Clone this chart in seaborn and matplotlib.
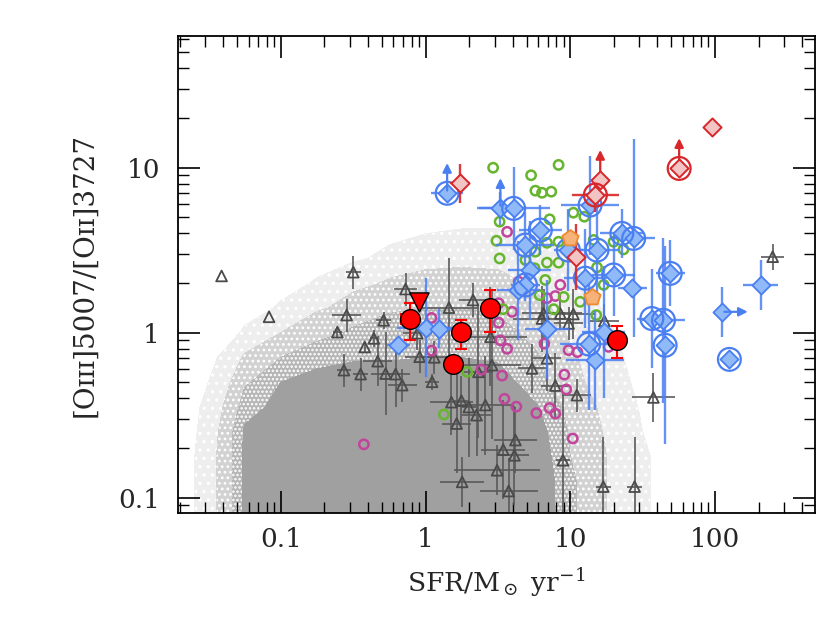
import numpy as np
import pandas as pd
import matplotlib
matplotlib.use("Agg")
import matplotlib.pyplot as plt
import seaborn as sns
from matplotlib.ticker import NullFormatter

# --- local galaxy cloud: density (0 empty .. 3 solid)
cloud_logx = [-1.75, -1.5, -1.25, -1.0, -0.75, -0.5, -0.25, 0.0, 0.25, 0.5, 0.75, 1.0, 1.25, 1.5, 1.75]
cloud_logy = [0.75, 0.6, 0.45, 0.3, 0.15, 0.0, -0.15, -0.3, -0.45, -0.6, -0.75, -0.9, -1.05, -1.2]
cloud_density = [
    [0, 0, 0, 0, 0, 0, 0, 0, 0, 0, 0, 0, 0, 0, 0],
    [0, 0, 0, 0, 0, 0.1, 0.3, 0.5, 0.6, 0.6, 0.5, 0.2, 0, 0, 0],
    [0, 0, 0, 0, 0.1, 0.4, 0.7, 0.9, 1.0, 1.0, 0.8, 0.5, 0.1, 0, 0],
    [0, 0, 0, 0.2, 0.6, 1.0, 1.3, 1.5, 1.5, 1.4, 1.1, 0.7, 0.3, 0, 0],
    [0, 0, 0.2, 0.6, 1.1, 1.5, 1.8, 1.9, 1.9, 1.8, 1.4, 0.9, 0.4, 0, 0],
    [0, 0, 0.6, 1.2, 1.7, 2.0, 2.2, 2.2, 2.2, 2.1, 1.7, 1.1, 0.6, 0.1, 0],
    [0, 0.3, 1.3, 1.9, 2.2, 2.4, 2.4, 2.5, 2.5, 2.4, 2.0, 1.3, 0.7, 0.2, 0],
    [0, 0.5, 1.8, 2.5, 2.8, 2.9, 3.0, 3.0, 3.0, 2.8, 2.1, 1.4, 0.8, 0.3, 0],
    [0, 0.7, 2.2, 2.8, 3.0, 3.0, 3.0, 3.0, 3.0, 3.0, 2.6, 1.6, 1.0, 0.4, 0],
    [0, 0.8, 2.6, 3.0, 3.0, 3.0, 3.0, 3.0, 3.0, 3.0, 2.8, 1.8, 1.1, 0.5, 0],
    [0, 0.9, 2.6, 3.0, 3.0, 3.0, 3.0, 3.0, 3.0, 3.0, 2.9, 1.9, 1.2, 0.6, 0],
    [0, 0.9, 2.6, 3.0, 3.0, 3.0, 3.0, 3.0, 3.0, 3.0, 3.0, 2.0, 1.2, 0.6, 0],
    [0, 0.9, 2.6, 3.0, 3.0, 3.0, 3.0, 3.0, 3.0, 3.0, 3.0, 2.0, 1.2, 0.6, 0],
    [0, 0.9, 2.6, 3.0, 3.0, 3.0, 3.0, 3.0, 3.0, 3.0, 3.0, 2.0, 1.2, 0.6, 0],
]

# --- gray triangles (sfr, ratio, errors in dex)
tri_sfr = [0.039, 0.317, 0.083, 0.285, 0.246, 0.513, 0.44, 0.38, 0.467, 0.273, 0.356, 0.53, 0.621,
           0.69, 0.728, 0.877, 0.91, 1.15, 1.11, 1.45, 2.13, 2.81, 2.88, 2.32, 1.51, 1.77, 1.99,
           2.59, 2.25, 1.64, 1.79, 3.12, 4.18, 3.44, 4.11, 3.75, 8.9, 16.9, 27.8, 11.1, 7.88,
           6.54, 8.53, 10.5, 6.38, 9.73, 17.2, 6.9, 5.44, 37.5, 250]
tri_ratio = [2.21, 2.33, 1.25, 1.28, 1.01, 1.19, 0.925, 0.82, 0.673, 0.594, 0.562, 0.566, 0.562,
             0.482, 1.84, 0.995, 0.716, 0.71, 0.505, 1.42, 1.58, 0.946, 0.637, 0.58, 0.38, 0.388, 0.355,
             0.365, 0.317, 0.282, 0.125, 0.147, 0.224, 0.196, 0.181, 0.11, 0.169, 0.117, 0.117, 0.419, 0.479,
             1.31, 1.31, 1.30, 1.22, 1.14, 1.18, 0.70, 0.608, 0.406, 2.89]
tri_ex = [0, 0.05, 0, 0.1, 0.03, 0.05, 0.03, 0, 0.1, 0.05, 0.05, 0.1, 0.1,
          0.1, 0.08, 0.1, 0.1, 0.1, 0.05, 0.2, 0.1, 0.25, 0.2, 0.1, 0.15, 0.05, 0.05,
          0.2, 0.1, 0.1, 0.15, 0.3, 0.15, 0.15, 0.1, 0.2, 0.05, 0.05, 0.05, 0.1, 0.1,
          0.15, 0.15, 0.15, 0.2, 0.1, 0.1, 0.1, 0.1, 0.15, 0.08]
tri_ey = [0, 0.1, 0, 0.1, 0.03, 0.05, 0.05, 0.03, 0.15, 0.1, 0.1, 0.25, 0.2,
          0.1, 0.1, 0.1, 0.1, 0.1, 0.05, 0.3, 0.1, 0.3, 0.45, 0.4, 0.2, 0.15, 0.3,
          0.3, 0.25, 0.3, 0.15, 0.15, 0.2, 0.3, 0.3, 0.2, 0.4, 0.3, 0.3, 0.1, 0.2,
          0.15, 0.1, 0.15, 0.2, 0.1, 0.1, 0.2, 0.15, 0.15, 0.08]

# --- green open circles
green_sfr = [2.93, 8.3, 5.36, 5.74, 6.38, 7.39, 10.5, 12.5, 7.2, 3.25, 3.09, 3.25, 4.9, 6.9, 8.3,
             5.74, 6.9, 8.3, 5.67, 6.72, 14.5, 23.3, 19.9, 15.3, 17.0, 6.14, 9.0, 7.67, 15.1, 3.43,
             1.94, 1.34, 11.7]
green_ratio = [10.0, 10.4, 9.0, 7.26, 7.05, 7.16, 5.34, 5.05, 4.87, 4.71, 3.61, 2.82, 2.76, 3.51, 3.56,
               3.10, 2.66, 2.66, 2.46, 2.09, 3.65, 3.2, 3.56, 2.49, 1.95, 1.69, 1.65, 1.39, 1.28, 1.39,
               0.58, 0.32, 1.54]

# --- magenta open circles
pink_sfr = [3.66, 4.4, 8.53, 7.88, 6.9, 3.96, 3.2, 3.29, 3.66, 6.62, 9.73, 11.2, 18.4, 3.38, 9.1,
            9.38, 3.51, 4.24, 5.83, 7.2, 7.88, 10.4, 2.43, 1.10, 1.10, 0.375, 3.2]
pink_ratio = [4.09, 2.04, 1.95, 1.67, 1.62, 1.34, 1.15, 0.90, 0.80, 0.86, 0.785, 0.764, 0.822, 0.55, 0.558,
              0.454, 0.398, 0.357, 0.326, 0.35, 0.324, 0.229, 0.598, 1.23, 0.78, 0.211, 1.51]

# --- blue diamonds (errors in dex), ring = encircled, arrow = limit direction
blue_sfr = [1.41, 3.29, 4.06, 6.21, 4.9, 5.24, 4.9, 4.38, 9.7, 13.7, 15.3, 12.7, 19.9, 22.7, 27.4,
            26.7, 49, 6.9, 17.0, 13.4, 14.9, 36.6, 44, 45.2, 125.6, 111, 207, 0.65, 1.0, 1.24]
blue_ratio = [7.0, 5.67, 5.67, 4.19, 3.40, 2.40, 1.95, 1.81, 3.17, 5.94, 3.17, 2.14, 2.24, 4.0, 3.73,
              1.86, 2.29, 1.05, 1.01, 0.855, 0.68, 1.22, 1.19, 0.84, 0.69, 1.34, 1.95, 0.84, 1.07, 1.06]
blue_ex = [0.11, 0.15, 0.25, 0.15, 0.2, 0.15, 0.1, 0.15, 0.1, 0.2, 0.15, 0.15, 0.15, 0.15, 0.15,
           0.1, 0.1, 0.15, 0.15, 0.2, 0.2, 0.1, 0.15, 0.05, 0, 0, 0.12, 0.08, 0.2, 0.09]
blue_ey = [0.05, 0.1, 0.25, 0.15, 0.2, 0.3, 0.1, 0.3, 0.25, 0.3, 0.3, 0.3, 0.25, 0.15, 0.6,
           0.05, 0.2, 0.3, 0.4, 0.4, 0.3, 0.3, 0.5, 0.6, 0, 0.15, 0.15, 0, 0.3, 0.12]
blue_ring = [1, 0, 1, 1, 1, 0, 1, 0, 1, 1, 1, 1, 1, 1, 1,
             0, 1, 0, 0, 1, 0, 1, 1, 1, 1, 0, 0, 0, 0, 0]
blue_arrow = ["up", "up", "", "", "", "", "", "", "", "", "", "", "", "", "",
              "", "", "", "", "", "", "", "", "", "", "right", "", "", "", ""]

# --- red diamonds
red_sfr = [1.74, 16.1, 14.9, 56.5, 96, 11.0]
red_ratio = [8.04, 8.4, 6.83, 9.9, 17.6, 2.89]
red_ex = [0.07, 0, 0.16, 0, 0.04, 0.05]
red_ey = [0.12, 0, 0.1, 0, 0.05, 0.2]
red_ring = [0, 0, 1, 1, 0, 0]
red_arrow = ["", "up", "", "up", "", ""]

# --- orange pentagons
pent_sfr = [10.0, 14.1]
pent_ratio = [3.73, 1.65]

# --- red filled circles (new sample) with bounds
dot_sfr = [0.78, 1.76, 1.55, 2.77, 21.0]
dot_ratio = [1.21, 1.01, 0.65, 1.42, 0.90]
dot_lo = [0.90, 0.80, 0.65, 1.01, 0.70]
dot_hi = [1.51, 1.20, 0.65, 1.81, 1.10]
dot_xlo = [0.68, 1.76, 1.55, 2.77, 21.0]
dot_xhi = [0.885, 1.76, 1.55, 2.77, 21.0]
lim_sfr = [0.90]
lim_ratio = [1.53]

x_ticks = [0.1, 1, 10, 100]
x_labels = ["0.1", "1", "10", "100"]
y_ticks = [0.1, 1, 10]
y_labels = ["0.1", "1", "10"]


def dex_err(v, e):
    v = np.asarray(v, float)
    e = np.asarray(e, float)
    return np.vstack([v - v / 10 ** e, v * 10 ** e - v])


sns.set_theme(style="ticks")
plt.rcParams["font.family"] = ["DejaVu Serif", "DejaVu Sans"]
plt.rcParams["mathtext.fontset"] = "dejavuserif"
plt.rcParams["hatch.color"] = "#7c7c7c"
plt.rcParams["hatch.linewidth"] = 1.2

fig = plt.figure(figsize=(8.31, 6.37), dpi=100)
ax = fig.add_axes([0.2142, 0.1947, 0.7665, 0.7488])
ax.set_xscale("log")
ax.set_yscale("log")

gx, gy = np.meshgrid(10 ** np.array(cloud_logx), 10 ** np.array(cloud_logy))
ax.contourf(gx, gy, np.array(cloud_density), levels=[0.5, 1.2, 1.9, 2.5, 10],
            colors=["#eeeeee", "#d2d2d2", "#b6b6b6", "#a0a0a0"],
            hatches=["..", "...", "....", None], zorder=0)

# gray triangles
ax.errorbar(tri_sfr, tri_ratio, xerr=dex_err(tri_sfr, tri_ex), yerr=dex_err(tri_ratio, tri_ey),
            fmt="none", ecolor="#5a5a5a", elinewidth=1.4, alpha=0.85, zorder=2)
tri = pd.DataFrame({"sfr": tri_sfr, "ratio": tri_ratio})
sns.scatterplot(data=tri, x="sfr", y="ratio", ax=ax, marker="^", s=60, facecolor="none",
                edgecolor="#4a4a4a", linewidth=1.3, zorder=3)

# green and magenta rings
sns.scatterplot(x=pink_sfr, y=pink_ratio, ax=ax, marker="o", s=45, facecolor="none",
                edgecolor="#c2449c", linewidth=1.8, zorder=4)
sns.scatterplot(x=green_sfr, y=green_ratio, ax=ax, marker="o", s=45, facecolor="none",
                edgecolor="#67b52f", linewidth=1.8, zorder=4)

# blue sample
blue_c = "#4a7ff2"
ax.errorbar(blue_sfr, blue_ratio, xerr=dex_err(blue_sfr, blue_ex), yerr=dex_err(blue_ratio, blue_ey),
            fmt="none", ecolor=blue_c, elinewidth=1.7, alpha=0.85, zorder=5)
blue = pd.DataFrame({"sfr": blue_sfr, "ratio": blue_ratio, "ring": blue_ring, "arrow": blue_arrow})
sns.scatterplot(data=blue, x="sfr", y="ratio", ax=ax, marker="D", s=85, color="#8fb9f7",
                edgecolor=blue_c, linewidth=1.3, zorder=6)
rings = blue[blue.ring == 1]
sns.scatterplot(data=rings, x="sfr", y="ratio", ax=ax, marker="o", s=270, facecolor="none",
                edgecolor=blue_c, linewidth=1.6, zorder=6)
for _, r in blue.iterrows():
    if r.arrow == "up":
        ax.annotate("", xy=(r.sfr, r.ratio * 10 ** 0.2), xytext=(r.sfr, r.ratio),
                    arrowprops=dict(arrowstyle="-|>", color=blue_c, lw=1.6, mutation_scale=13), zorder=6)
    elif r.arrow == "right":
        ax.annotate("", xy=(r.sfr * 10 ** 0.2, r.ratio), xytext=(r.sfr, r.ratio),
                    arrowprops=dict(arrowstyle="-|>", color=blue_c, lw=1.6, mutation_scale=13), zorder=6)

# red diamonds
red_c = "#d8262a"
ax.errorbar(red_sfr, red_ratio, xerr=dex_err(red_sfr, red_ex), yerr=dex_err(red_ratio, red_ey),
            fmt="none", ecolor=red_c, elinewidth=1.7, alpha=0.9, zorder=7)
red = pd.DataFrame({"sfr": red_sfr, "ratio": red_ratio, "ring": red_ring, "arrow": red_arrow})
for _, r in red.iterrows():
    if r.arrow == "up":
        ax.annotate("", xy=(r.sfr, r.ratio * 10 ** 0.2), xytext=(r.sfr, r.ratio),
                    arrowprops=dict(arrowstyle="-|>", color=red_c, lw=1.6, mutation_scale=13), zorder=7)
sns.scatterplot(data=red, x="sfr", y="ratio", ax=ax, marker="D", s=85, color="#f2c4c4",
                edgecolor=red_c, linewidth=1.4, zorder=8)
sns.scatterplot(data=red[red.ring == 1], x="sfr", y="ratio", ax=ax, marker="o", s=270,
                facecolor="none", edgecolor=red_c, linewidth=1.6, zorder=8)

# orange pentagons
sns.scatterplot(x=pent_sfr, y=pent_ratio, ax=ax, marker="p", s=150, color="#f7b27a",
                edgecolor="#f08a2c", linewidth=1.3, zorder=8)

# red filled circles
ax.errorbar(dot_sfr, dot_ratio,
            xerr=[np.array(dot_sfr) - np.array(dot_xlo), np.array(dot_xhi) - np.array(dot_sfr)],
            yerr=[np.array(dot_ratio) - np.array(dot_lo), np.array(dot_hi) - np.array(dot_ratio)],
            fmt="none", ecolor="#ff0000", elinewidth=1.5, capsize=4, capthick=1.5, zorder=9)
sns.scatterplot(x=dot_sfr, y=dot_ratio, ax=ax, marker="o", s=200, color="#ff0000",
                edgecolor="black", linewidth=1.0, zorder=10)
sns.scatterplot(x=lim_sfr, y=lim_ratio, ax=ax, marker="v", s=190, color="#ff0000",
                edgecolor="black", linewidth=1.0, zorder=10)

ax.set_xlim(0.0195, 490)
ax.set_ylim(0.081, 62.8)
ax.set_xticks(x_ticks)
ax.set_xticklabels(x_labels)
ax.set_yticks(y_ticks)
ax.set_yticklabels(y_labels)
ax.xaxis.set_minor_formatter(NullFormatter())
ax.yaxis.set_minor_formatter(NullFormatter())
ax.tick_params(which="both", direction="in", top=True, right=True, color="black")
ax.tick_params(which="major", length=16, width=1.2, labelsize=19, pad=13)
ax.tick_params(axis="x", which="major", pad=10)
ax.tick_params(which="minor", length=8, width=1.0)
for s in ax.spines.values():
    s.set_linewidth(1.3)
    s.set_color("black")

ax.set_xlabel(r"SFR/M$_\odot$ yr$^{-1}$", fontsize=19, labelpad=10)
ax.set_ylabel("[O\u026a\u026a\u026a]5007/[O\u026a\u026a]3727", fontsize=20, labelpad=14)

fig.savefig("out.png", dpi=100)
